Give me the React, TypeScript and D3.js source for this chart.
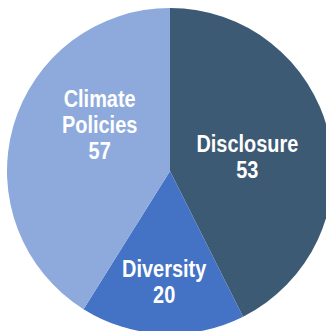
import React from "react";
import * as d3 from "d3";

const categories = ["Disclosure", "Diversity", "Climate Policies"];
const counts = [53, 20, 57];
// slice shares as drawn in the reference (percent of the circle)
const sliceShares = [42.6, 16.3, 41.1];
const colors = ["#3d5a74", "#4472c4", "#8eaadc"];
// label lines per slice
const labelLines = [["Disclosure"], ["Diversity"], ["Climate", "Policies"]];
// first-baseline offset of each label from its slice centroid (px)
const labelOffsets = [
  [-2, -0.5],
  [-2, 24.5],
  [8, -41.5],
];

const W = 326;
const H = 331;
const CX = 170;
const CY = 171;
const R = 163;

export default function App() {
  const data = categories.map((c, i) => ({ c, count: counts[i], share: sliceShares[i], i }));
  const pie = d3
    .pie<any>()
    .value((d) => d.share)
    .sort(null)
    .startAngle(0)
    .endAngle(2 * Math.PI);
  const arcs = pie(data);
  const arc = d3.arc<any>().innerRadius(0).outerRadius(R);
  const labelArc = d3.arc<any>().innerRadius(R * 0.5).outerRadius(R * 0.5);
  const lineH = 26;

  return (
    <svg
      width={W}
      height={H}
      style={{ position: "absolute", left: 0, top: 0, display: "block" }}
    >
      <g transform={`translate(${CX},${CY})`}>
        {arcs.map((a, i) => (
          <path key={i} d={arc(a) as string} fill={colors[i]} />
        ))}
        {arcs.map((a, i) => {
          const [x, y] = labelArc.centroid(a);
          const lines = [...labelLines[i], String(counts[i])];
          const x0 = x + labelOffsets[i][0];
          const y0 = y + labelOffsets[i][1];
          return (
            <g key={"t" + i} transform={`translate(${x0},${y0}) scale(0.83,1)`}>
              <text
                x={0}
                y={0}
                textAnchor="middle"
                fill="#ffffff"
                style={{
                  fontFamily: "'Liberation Sans', Arial, sans-serif",
                  fontWeight: 700,
                  fontSize: 24,
                }}
              >
                {lines.map((l, k) => (
                  <tspan key={k} x={0} dy={k === 0 ? 0 : lineH}>
                    {l}
                  </tspan>
                ))}
              </text>
            </g>
          );
        })}
      </g>
    </svg>
  );
}
